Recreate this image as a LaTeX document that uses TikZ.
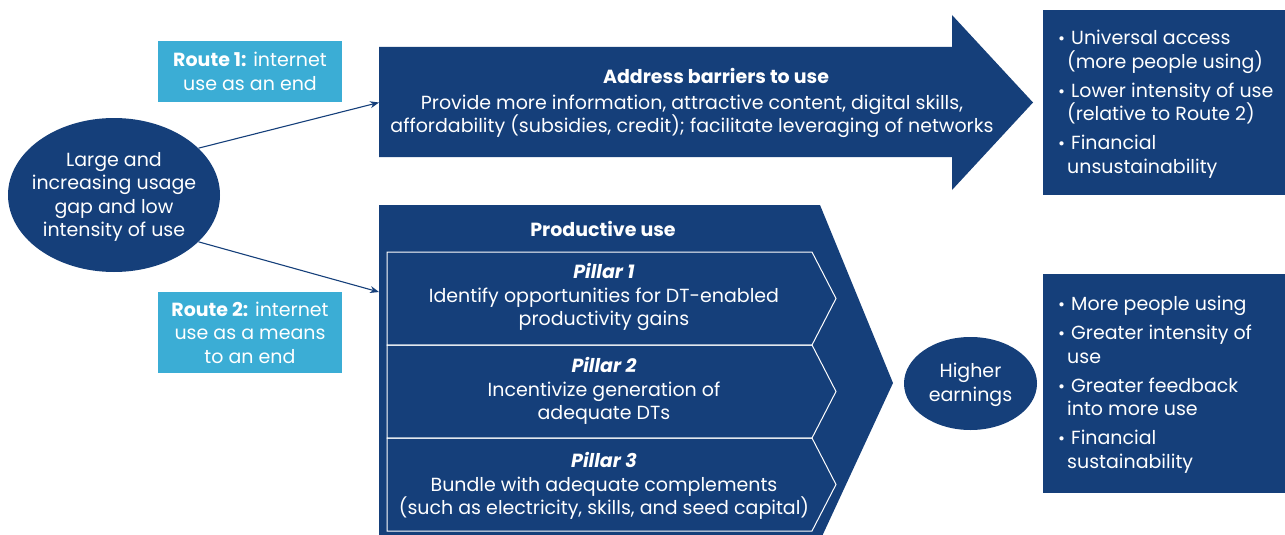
\documentclass[tikz,border=0pt]{standalone}
\usepackage{fontspec}
\setmainfont{Poppins}
\usetikzlibrary{shapes.geometric,arrows.meta}
\definecolor{navy}{RGB}{21,63,122}
\definecolor{sky}{RGB}{59,173,213}
\tikzset{
  fnt/.style={font=\fontsize{19}{23.5}\selectfont},
  txt/.style={text=white, fnt, align=center, inner sep=0pt},
  lst/.style={text=white, fnt, align=left, inner sep=0pt, anchor=north west},
  routebox/.style={fill=sky, text=white, fnt, align=center, minimum width=184pt, inner sep=0pt},
  oval/.style={ellipse, fill=navy, inner sep=0pt},
  conn/.style={draw=navy, line width=1.1pt, -{Stealth[length=9pt,width=7pt]}},
  pillarline/.style={draw=white, line width=1pt},
}
\newcommand{\bul}{\makebox[13pt][l]{\fontsize{17}{17}\selectfont\textbullet}}
\newcommand{\ind}{\hspace*{9pt}}
\begin{document}
\begin{tikzpicture}[x=1pt,y=-1pt]
\useasboundingbox (0,0) rectangle (1285,535);
\clip (0,0) rectangle (1285,535);

% left ellipse
\node[oval, minimum width=212pt, minimum height=154pt] (gap) at (114,195) {};
\node[txt] (gaptext) at (114,197) {Large and\\increasing usage\\gap and low\\intensity of use};

% route boxes
\node[routebox, minimum height=61pt] (r1) at (250,71.5) {\textbf{Route 1:} internet\\use as an end};
\node[routebox, minimum height=81pt] (r2) at (250,332.5) {\textbf{Route 2:} internet\\use as a means\\to an end};

% top arrow
\fill[navy] (379,47) -- (952,47) -- (952,15) -- (1033,102.5) -- (952,190) -- (952,157) -- (379,157) -- cycle;
\coordinate (a1) at (379,102.5);
\node[txt, font=\fontsize{19}{23.5}\selectfont\bfseries] (abtitle) at (716,76) {Address barriers to use};
\node[txt] (abbody) at (692,116.5) {Provide more information, attractive content, digital skills,\\affordability (subsidies, credit); facilitate leveraging of networks};

% productive use shape
\fill[navy] (379,205) -- (820,205) -- (893,383) -- (818,545) -- (379,545) -- cycle;
\coordinate (a2) at (379,292);
\node[txt, font=\fontsize{19}{23.5}\selectfont\bfseries] (putitle) at (603,229) {Productive use};

% pillars
\draw[pillarline] (387,252) -- (812,252) -- (836,298.5) -- (812,345) -- (387,345) -- cycle;
\draw[pillarline] (387,345) -- (812,345) -- (836,391.5) -- (812,438) -- (387,438) -- cycle;
\draw[pillarline] (387,438) -- (812,438) -- (836,484.5) -- (812,531) -- (387,531) -- cycle;
\node[txt] (p1) at (604,297) {\textbf{\itshape Pillar 1}\\Identify opportunities for DT-enabled\\productivity gains};
\node[txt] (p2) at (604,391) {\textbf{\itshape Pillar 2}\\Incentivize generation of\\adequate DTs};
\node[txt] (p3) at (604,486) {\textbf{\itshape Pillar 3}\\Bundle with adequate complements\\(such as electricity, skills, and seed capital)};

% higher earnings
\node[oval, minimum width=133pt, minimum height=93pt] (he) at (970.5,383.5) {};
\node[txt] (hetext) at (970.5,385) {Higher\\earnings};

% right boxes
\fill[navy] (1043,10) rectangle (1290,195);
\fill[navy] (1043,274) rectangle (1290,493);
\node[lst] (o1) at (1058,30) {\bul Universal access\\\ind(more people using)\\[5.5pt]\bul Lower intensity of use\\\ind(relative to Route 2)\\[5.5pt]\bul Financial\\\ind unsustainability};
\node[lst] (o2) at (1058,296) {\bul More people using\\[5.5pt]\bul Greater intensity of\\\ind use\\[5.5pt]\bul Greater feedback\\\ind into more use\\[5.5pt]\bul Financial\\\ind sustainability};

% connectors
\draw[conn] (gap.29.5) -- (a1);
\draw[conn] (gap.-29.5) -- (a2);
\end{tikzpicture}
\end{document}
